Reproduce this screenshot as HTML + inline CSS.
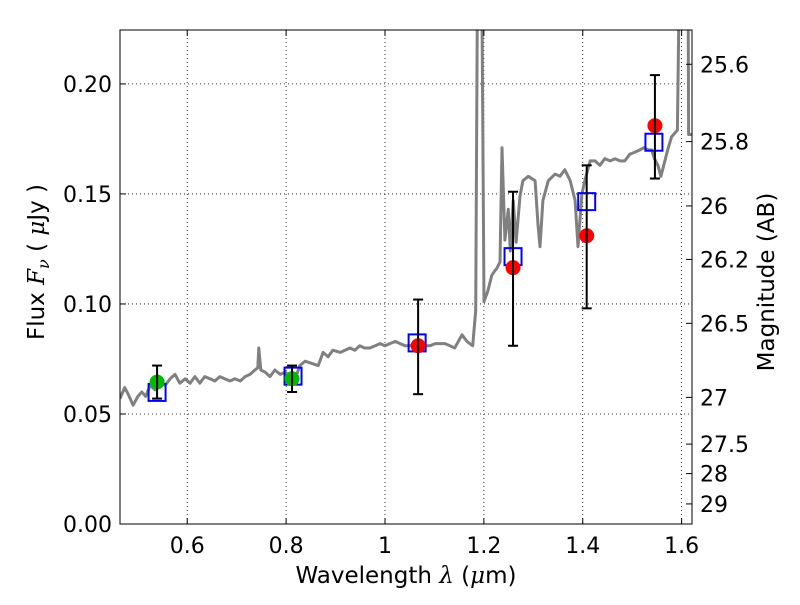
<!DOCTYPE html>
<html><head><meta charset="utf-8"><style>
body{margin:0;background:#fff;}
svg text{font-family:"DejaVu Sans","Liberation Sans",sans-serif;fill:#000;}
</style></head><body>
<svg id="chart" width="800" height="600" xmlns="http://www.w3.org/2000/svg"></svg>
<script>
const specLam=[0.4638,0.4736,0.4805,0.4904,0.5003,0.5081,0.516,0.5249,0.5348,0.5456,0.5555,0.5653,0.5752,0.585,0.5959,0.6057,0.6156,0.6255,0.6353,0.6462,0.656,0.6659,0.6757,0.6866,0.6964,0.7073,0.7171,0.727,0.7368,0.7428,0.7447,0.7487,0.7576,0.7674,0.7773,0.7881,0.798,0.8118,0.8216,0.8276,0.8384,0.8522,0.865,0.8749,0.8847,0.8946,0.9094,0.9192,0.9291,0.9389,0.9488,0.9586,0.9695,0.9803,0.9902,1.0,1.0099,1.0208,1.0306,1.0405,1.0503,1.0612,1.071,1.0809,1.0907,1.1016,1.1114,1.1213,1.1312,1.141,1.1558,1.1657,1.1775,1.1834,1.1883,1.1943,1.2002,1.2081,1.216,1.2219,1.2258,1.2327,1.2366,1.2426,1.2495,1.2534,1.2593,1.2652,1.2731,1.279,1.2899,1.3037,1.3096,1.3135,1.3195,1.3303,1.3441,1.354,1.3638,1.3747,1.3845,1.3905,1.3983,1.4042,1.4151,1.425,1.4348,1.4447,1.4555,1.4654,1.4752,1.4851,1.4949,1.5058,1.5156,1.5235,1.5314,1.5393,1.5452,1.5521,1.558,1.5649,1.5718,1.5797,1.5915,1.5984,1.6044,1.6123,1.6142,1.6241];
const specFlux=[0.057,0.062,0.059,0.054,0.058,0.060,0.058,0.063,0.061,0.065,0.063,0.066,0.068,0.064,0.066,0.064,0.067,0.064,0.067,0.066,0.065,0.067,0.066,0.065,0.066,0.065,0.067,0.068,0.070,0.071,0.080,0.070,0.069,0.067,0.070,0.068,0.069,0.067,0.068,0.072,0.074,0.073,0.072,0.078,0.076,0.079,0.078,0.079,0.080,0.079,0.081,0.080,0.080,0.081,0.082,0.081,0.082,0.083,0.082,0.081,0.081,0.082,0.080,0.081,0.081,0.082,0.082,0.082,0.081,0.080,0.086,0.083,0.081,0.097,0.3,0.3,0.101,0.106,0.113,0.115,0.116,0.119,0.171,0.129,0.143,0.124,0.147,0.128,0.149,0.156,0.158,0.156,0.136,0.126,0.147,0.156,0.159,0.158,0.161,0.156,0.147,0.126,0.150,0.156,0.165,0.165,0.163,0.166,0.165,0.166,0.165,0.165,0.168,0.169,0.170,0.171,0.170,0.170,0.166,0.163,0.158,0.164,0.170,0.176,0.179,0.3,0.3,0.3,0.177,0.177];
const obsLam=[0.539,0.812,1.067,1.259,1.408,1.546];
const obsFlux=[0.0645,0.066,0.081,0.1165,0.131,0.181];
const obsLo=[0.057,0.060,0.059,0.081,0.098,0.157];
const obsHi=[0.072,0.072,0.102,0.151,0.163,0.204];
const obsColor=["#00bb00","#00bb00","#ff0000","#ff0000","#ff0000","#ff0000"];
const modLam=[0.539,0.814,1.065,1.259,1.408,1.544];
const modFlux=[0.0598,0.0672,0.0823,0.1215,0.1465,0.1735];
const xTicks=[0.6,0.8,1.0,1.2,1.4,1.6];
const xTickLabels=["0.6","0.8","1","1.2","1.4","1.6"];
const yTicks=[0,0.05,0.10,0.15,0.20];
const yTickLabels=["0.00","0.05","0.10","0.15","0.20"];
const magTicks=[25.6,25.8,26,26.2,26.5,27,27.5,28,29];
const magTickLabels=["25.6","25.8","26","26.2","26.5","27","27.5","28","29"];

const L=120,R=692,T=30,B=524;
const xmin=0.464,xmax=1.621,ymin=0,ymax=0.2245;
const X=v=>L+(v-xmin)/(xmax-xmin)*(R-L);
const Y=v=>B-(v-ymin)/(ymax-ymin)*(B-T);
const NS="http://www.w3.org/2000/svg";
const svg=document.getElementById('chart');
function mk(tag,attrs,parent){const e=document.createElementNS(NS,tag);for(const k in attrs)e.setAttribute(k,attrs[k]);(parent||svg).appendChild(e);return e;}

const defs=mk('defs',{});
const cp=mk('clipPath',{id:'clip'},defs);
mk('rect',{x:L,y:T,width:R-L,height:B-T},cp);

const grid=mk('g',{});


xTicks.forEach(t=>{mk('line',{x1:X(t),x2:X(t),y1:T,y2:B,stroke:'#000','stroke-width':0.8,'stroke-dasharray':'1,3'},grid);});
yTicks.forEach(t=>{mk('line',{x1:L,x2:R,y1:Y(t),y2:Y(t),stroke:'#000','stroke-width':0.8,'stroke-dasharray':'1,3'},grid);});

const plot=mk('g',{'clip-path':'url(#clip)'});
let d='';
specLam.forEach((l,i)=>{d+=(i?'L':'M')+X(l).toFixed(1)+','+Y(specFlux[i]).toFixed(1);});
const sp=mk('path',{d:d,fill:'none',stroke:'#808080','stroke-width':3,'stroke-linejoin':'round'},plot);



modLam.forEach((l,i)=>{
  const r=mk('rect',{x:X(l)-8.5,y:Y(modFlux[i])-8.5,width:17,height:17,fill:'none',stroke:'#0000ff','stroke-width':2},plot);
  
  
});
obsLam.forEach((l,i)=>{
  const g=mk('g',{},plot);
  
  
  mk('circle',{cx:X(l),cy:Y(obsFlux[i]),r:7.5,fill:obsColor[i]},g);
  mk('line',{x1:X(l),x2:X(l),y1:Y(obsLo[i]),y2:Y(obsHi[i]),stroke:'#000','stroke-width':2},g);
  mk('line',{x1:X(l)-5,x2:X(l)+5,y1:Y(obsLo[i]),y2:Y(obsLo[i]),stroke:'#000','stroke-width':2},g);
  mk('line',{x1:X(l)-5,x2:X(l)+5,y1:Y(obsHi[i]),y2:Y(obsHi[i]),stroke:'#000','stroke-width':2},g);
});

const fr=mk('rect',{x:L,y:T,width:R-L,height:B-T,fill:'none',stroke:'#000','stroke-width':1});



xTicks.forEach((t,i)=>{
  mk('line',{x1:X(t),x2:X(t),y1:B,y2:B-6,stroke:'#000'});
  mk('line',{x1:X(t),x2:X(t),y1:T,y2:T+6,stroke:'#000'});
  const tx=mk('text',{x:X(t),y:B+29,'text-anchor':'middle','font-size':22});
  tx.textContent=xTickLabels[i];
  
  
});
yTicks.forEach((t,i)=>{
  mk('line',{x1:L,x2:L+6,y1:Y(t),y2:Y(t),stroke:'#000'});
  const tx=mk('text',{x:L-8,y:Y(t)+8,'text-anchor':'end','font-size':22});
  tx.textContent=yTickLabels[i];
  
  
});
magTicks.forEach((m,i)=>{
  const f=Math.pow(10,(23.9-m)/2.5);
  const y=Y(f);
  mk('line',{x1:R,x2:R-6,y1:y,y2:y,stroke:'#000'});
  const tx=mk('text',{x:R+8,y:y+8,'text-anchor':'start','font-size':22});
  tx.textContent=magTickLabels[i];
  
  
});

const xl=mk('text',{x:406,y:583,'text-anchor':'middle','font-size':23});
xl.setAttribute('xml:space','preserve');
xl.innerHTML='Wavelength  <tspan font-style="italic" font-family="DejaVu Serif">λ</tspan> (<tspan font-style="italic" font-family="DejaVu Serif">μ</tspan>m)';


const yl=mk('text',{x:0,y:0,'text-anchor':'middle','font-size':23,transform:'translate(44,262) rotate(-90)'});
yl.setAttribute('xml:space','preserve');
yl.innerHTML='Flux  <tspan font-style="italic" font-family="DejaVu Serif">F</tspan><tspan font-style="italic" font-family="DejaVu Serif" font-size="16" dy="5">ν</tspan><tspan dy="-5">  (  </tspan><tspan font-style="italic" font-family="DejaVu Serif">μ</tspan>Jy )';


const rl=mk('text',{x:0,y:0,'text-anchor':'middle','font-size':23,transform:'translate(774,282) rotate(-90)'});
rl.textContent='Magnitude (AB)';


</script>
</body></html>
